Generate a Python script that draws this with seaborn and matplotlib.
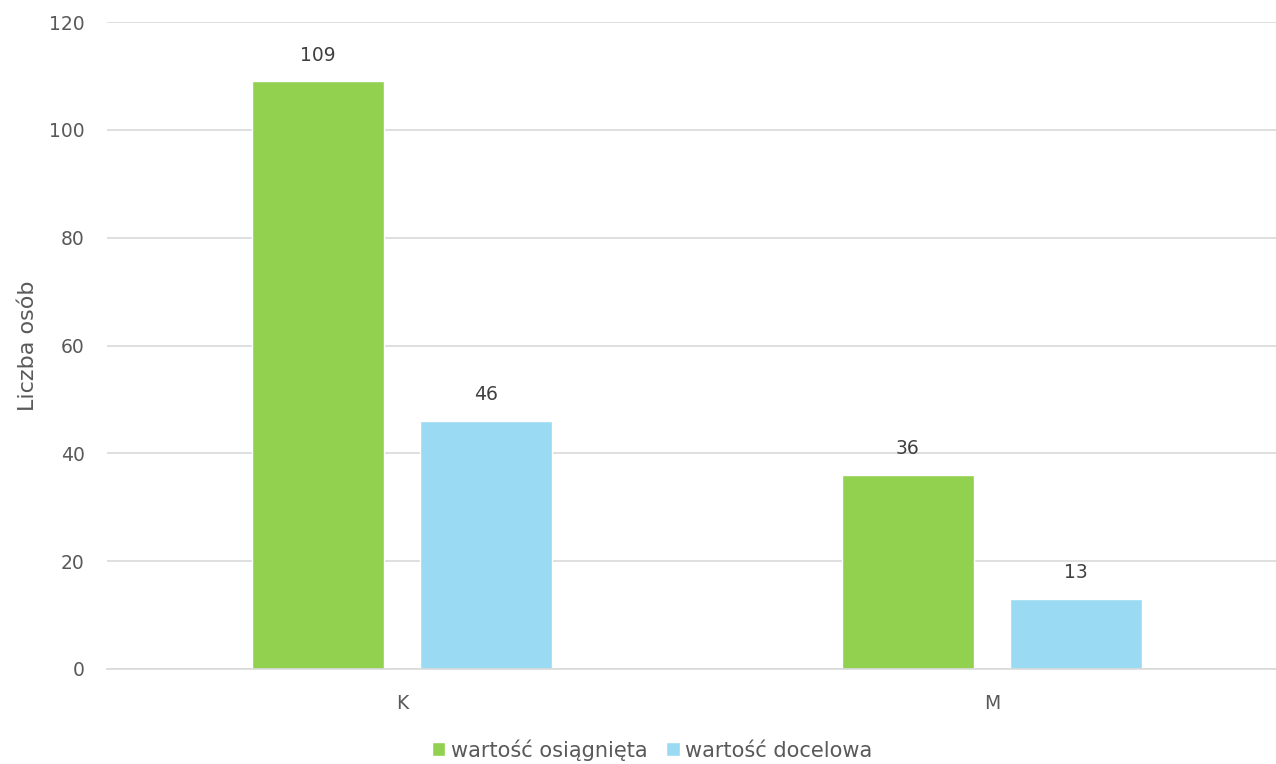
import pandas as pd
import matplotlib.pyplot as plt
import seaborn as sns

categories = ['K', 'M']
series = ['wartość osiągnięta', 'wartość docelowa']
achieved = [109, 36]
target = [46, 13]
colors = ['#92D050', '#9ADAF2']

df = pd.DataFrame({
    'plec': categories * 2,
    'seria': [series[0]] * 2 + [series[1]] * 2,
    'wartosc': achieved + target,
})

sns.set_theme(style='white')
plt.rcParams['font.family'] = ['DejaVu Sans']
txt = '#595959'

fig = plt.figure(figsize=(12.76, 7.64), dpi=100)
ax = fig.add_axes([107 / 1276, 1 - 669 / 764, (1287 - 107) / 1276, (669 - 22) / 764])

sns.barplot(data=df, x='plec', y='wartosc', hue='seria', palette=colors,
            width=0.57, gap=0.214, saturation=1, ax=ax, legend=True)

for c in ax.containers:
    ax.bar_label(c, padding=12, fontsize=13.5, color='#404040')

ax.set_ylim(0, 120)
ax.set_yticks(range(0, 121, 20))
ax.yaxis.grid(True, color='#D9D9D9', linewidth=1.2)
ax.set_axisbelow(True)
for s in ['top', 'right', 'left']:
    ax.spines[s].set_visible(False)
ax.spines['bottom'].set_color('#D9D9D9')
ax.spines['bottom'].set_linewidth(1.2)
ax.tick_params(axis='both', length=0, labelsize=13.5, colors=txt)
ax.tick_params(axis='y', pad=16)
ax.tick_params(axis='x', pad=18)
ax.set_xlabel('')
ax.set_ylabel('Liczba osób', fontsize=16, color=txt, labelpad=8)

ax.legend(loc='center', bbox_to_anchor=((652 - 107) / 1180, -(750 - 669) / 647),
          ncol=2, frameon=False,
          fontsize=15, labelcolor=txt, handlelength=0.65, handleheight=0.65,
          handletextpad=0.25, columnspacing=0.9)

fig.savefig('out.png', dpi=100)
